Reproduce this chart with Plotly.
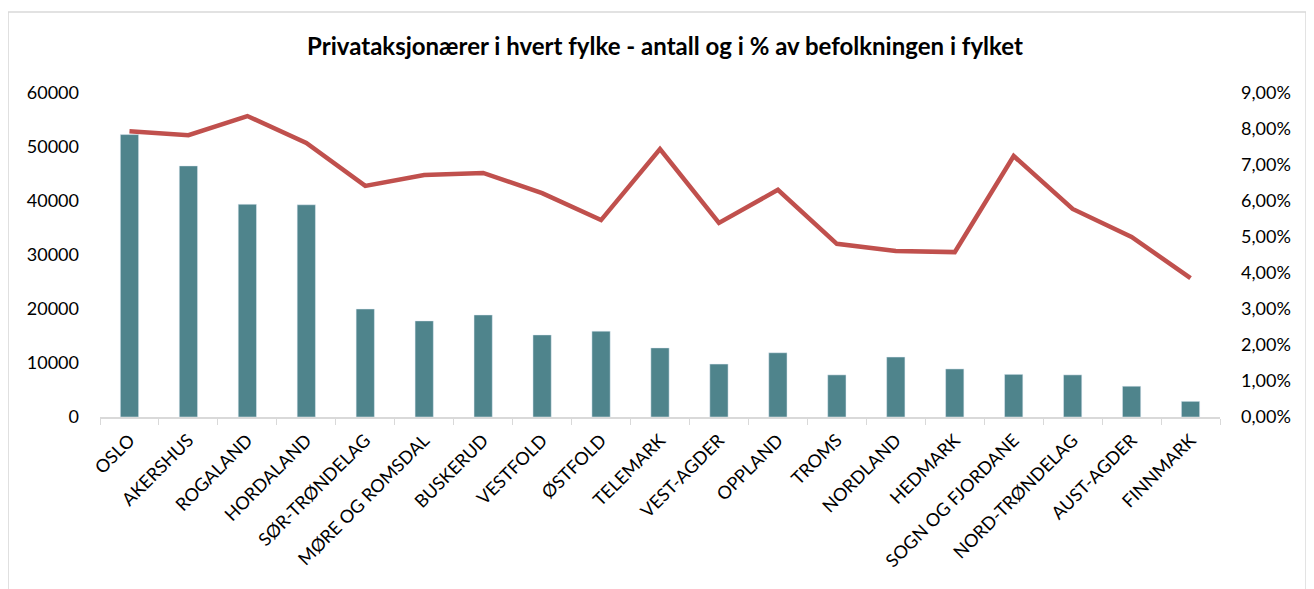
import plotly.graph_objects as go

fylker = ['OSLO', 'AKERSHUS', 'ROGALAND', 'HORDALAND', 'SØR-TRØNDELAG', 'MØRE OG ROMSDAL',
          'BUSKERUD', 'VESTFOLD', 'ØSTFOLD', 'TELEMARK', 'VEST-AGDER', 'OPPLAND', 'TROMS',
          'NORDLAND', 'HEDMARK', 'SOGN OG FJORDANE', 'NORD-TRØNDELAG', 'AUST-AGDER', 'FINNMARK']
antall = [52300, 46500, 39400, 39300, 20000, 17800, 18900, 15200, 15900, 12800,
          9800, 11900, 7800, 11100, 8900, 7900, 7800, 5700, 2900]
prosent = [7.94, 7.83, 8.36, 7.61, 6.42, 6.72, 6.78, 6.22, 5.47, 7.44,
           5.39, 6.31, 4.81, 4.61, 4.58, 7.25, 5.78, 5.00, 3.86]

venstre_ticks = [0, 10000, 20000, 30000, 40000, 50000, 60000]
venstre_tekst = ['0', '10000', '20000', '30000', '40000', '50000', '60000']
hoyre_ticks = [0, 1, 2, 3, 4, 5, 6, 7, 8, 9]
hoyre_tekst = ['0,00%', '1,00%', '2,00%', '3,00%', '4,00%', '5,00%', '6,00%', '7,00%', '8,00%', '9,00%']

font = 'Lato, "Open Sans", sans-serif'

fig = go.Figure()
fig.add_trace(go.Bar(x=fylker, y=antall, marker_color='#4F848C', width=0.31, name='Antall'))
fig.add_trace(go.Scatter(x=fylker, y=prosent, yaxis='y2', mode='lines',
                         line=dict(color='#C0504D', width=4.5), name='Prosent'))

fig.update_layout(
    width=1314, height=589,
    paper_bgcolor='white', plot_bgcolor='white',
    margin=dict(l=92, r=102, t=85, b=180),
    showlegend=False,
    font=dict(family=font, size=18, color='#000000'),
    title=dict(text='<b>Privataksjonærer i hvert fylke - antall og i % av befolkningen i fylket</b>',
               x=0.5, xanchor='center', y=0.934, yanchor='middle',
               font=dict(family=font, size=24, color='#000000')),
    xaxis=dict(tickangle=-45, showline=True, linecolor='#D9D9D9', linewidth=1.5,
               ticks='outside', tickson='boundaries', ticklen=6, tickcolor='#D9D9D9',
               showgrid=False, tickfont=dict(size=18), ticklabelstandoff=4),
    yaxis=dict(range=[0, 60000], tickvals=venstre_ticks, ticktext=venstre_tekst,
               showgrid=False, zeroline=False, ticks='', ticklabelstandoff=20,
               tickfont=dict(size=18)),
    yaxis2=dict(range=[0, 9], overlaying='y', side='right', tickvals=hoyre_ticks,
                ticktext=hoyre_tekst, showgrid=False, zeroline=False, ticks='',
                ticklabelstandoff=20, tickfont=dict(size=18)),
)

fig.add_shape(type='rect', xref='paper', yref='paper', x0=-0.0821, x1=1.0768, y0=-1.0, y1=1.25,
              line=dict(color='#D9D9D9', width=1.5), fillcolor='rgba(0,0,0,0)', layer='below')

fig.write_html('out.html')
